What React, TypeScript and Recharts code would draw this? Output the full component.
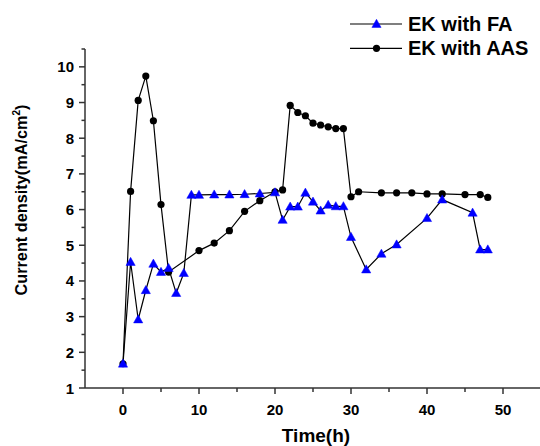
import React from 'react';
import { LineChart, Line, XAxis, YAxis, Label, Legend } from 'recharts';

const FONT = '"Liberation Sans", Arial, Helvetica, sans-serif';
const AXIS_COLOR = '#333333';
const FA_COLOR = '#0000ff';

// Current density over time, EK with FA (triangles)
const faHours = [0, 1, 2, 3, 4, 5, 6, 7, 8, 9, 10, 12, 14, 16, 18, 20, 21, 22, 23, 24, 25, 26, 27, 28, 29, 30, 32, 34, 36, 40, 42, 46, 47, 48];
const faDensity = [1.68, 4.53, 2.92, 3.74, 4.48, 4.25, 4.36, 3.66, 4.22, 6.41, 6.41, 6.42, 6.42, 6.43, 6.45, 6.48, 5.71, 6.08, 6.08, 6.47, 6.22, 5.97, 6.13, 6.09, 6.09, 5.23, 4.32, 4.76, 5.02, 5.76, 6.28, 5.91, 4.88, 4.88];

// Current density over time, EK with AAS (circles)
const aasHours = [0, 1, 2, 3, 4, 5, 6, 10, 12, 14, 16, 18, 20, 21, 22, 23, 24, 25, 26, 27, 28, 29, 30, 31, 34, 36, 38, 40, 42, 45, 47, 48];
const aasDensity = [1.68, 6.51, 9.06, 9.74, 8.49, 6.14, 4.25, 4.85, 5.06, 5.41, 5.95, 6.25, 6.5, 6.55, 8.92, 8.72, 8.63, 8.42, 8.37, 8.32, 8.27, 8.27, 6.36, 6.5, 6.47, 6.47, 6.47, 6.44, 6.44, 6.42, 6.42, 6.34];

const seriesNames = ['EK with FA', 'EK with AAS'];

const xTicks = [0, 5, 10, 15, 20, 25, 30, 35, 40, 45, 50];
const yTicks = [1, 1.5, 2, 2.5, 3, 3.5, 4, 4.5, 5, 5.5, 6, 6.5, 7, 7.5, 8, 8.5, 9, 9.5, 10, 10.5];

const faData = faHours.map((t, i) => ({ t, v: faDensity[i] }));
const aasData = aasHours.map((t, i) => ({ t, v: aasDensity[i] }));

const triPoints = (cx: number, cy: number) =>
  `${cx},${cy - 4.7} ${cx - 4.6},${cy + 3.4} ${cx + 4.6},${cy + 3.4}`;

const TriangleDot = (props: any) => {
  const { cx, cy, index } = props;
  if (cx == null || cy == null) return <g key={`fa-${index}`} />;
  return <polygon key={`fa-${index}`} points={triPoints(cx, cy)} fill={FA_COLOR} stroke={FA_COLOR} strokeWidth={0.5} />;
};

const CircleDot = (props: any) => {
  const { cx, cy, index } = props;
  if (cx == null || cy == null) return <g key={`aas-${index}`} />;
  return <circle key={`aas-${index}`} cx={cx} cy={cy} r={3.6} fill="#000" />;
};

const XTick = (props: any) => {
  const { x, y, payload } = props;
  const major = payload.value % 10 === 0;
  return (
    <g>
      <line x1={x} x2={x} y1={y} y2={y + (major ? 6 : 4)} stroke={AXIS_COLOR} strokeWidth={1.5} />
      {major && (
        <text x={x} y={y + 27} textAnchor="middle" fontFamily={FONT} fontWeight="bold" fontSize={15} fill="#000">
          {payload.value}
        </text>
      )}
    </g>
  );
};

const YTick = (props: any) => {
  const { x, y, payload } = props;
  const major = Number.isInteger(payload.value);
  return (
    <g>
      <line x1={x - (major ? 6 : 3.5)} x2={x} y1={y} y2={y} stroke={AXIS_COLOR} strokeWidth={1.5} />
      {major && (
        <text x={x - 11} y={y + 5.5} textAnchor="end" fontFamily={FONT} fontWeight="bold" fontSize={15} fill="#000">
          {payload.value}
        </text>
      )}
    </g>
  );
};

const YTitle = (props: any) => {
  const vb = props.viewBox || {};
  const cy = (vb.y ?? 49) + 151;
  const cx = 27;
  return (
    <text
      x={cx}
      y={cy}
      transform={`rotate(-90 ${cx} ${cy})`}
      textAnchor="middle"
      fontFamily={FONT}
      fontWeight="bold"
      fontSize={16.3}
      fill="#000"
    >
      Current density(mA/cm
      <tspan fontSize={10} dy={-7}>2</tspan>
      <tspan dy={7}>)</tspan>
    </text>
  );
};

const XTitle = (props: any) => {
  const vb = props.viewBox || {};
  const cx = (vb.x ?? 85) + 231;
  return (
    <text x={cx} y={441.5} textAnchor="middle" fontFamily={FONT} fontWeight="bold" fontSize={19} fill="#000">
      Time(h)
    </text>
  );
};

const LegendContent = () => (
  <svg width={200} height={62} style={{ display: 'block' }}>
    {seriesNames.map((name, i) => {
      const y = 24 + i * 24.3;
      return (
        <g key={name}>
          <line x1={10} x2={62} y1={y} y2={y} stroke="#000" strokeWidth={1.2} />
          {i === 0 ? (
            <polygon points={triPoints(36.5, y)} fill={FA_COLOR} stroke={FA_COLOR} strokeWidth={0.5} />
          ) : (
            <circle cx={36.5} cy={y} r={3.6} fill="#000" />
          )}
          <text x={68} y={y + 7} fontFamily={FONT} fontWeight="bold" fontSize={20} fill="#000">
            {name}
          </text>
        </g>
      );
    })}
  </svg>
);

export default function App() {
  return (
    <div style={{ position: 'absolute', left: 0, top: 0, width: 540, height: 446, overflow: 'hidden', background: '#fff' }}>
      <LineChart width={541} height={446} margin={{ top: 49, right: 0, bottom: 0, left: 0 }}>
        <XAxis
          dataKey="t"
          type="number"
          domain={[-5, 55]}
          ticks={xTicks}
          interval={0}
          allowDataOverflow
          height={58}
          tickSize={0}
          tickMargin={0}
          tickLine={false}
          tick={<XTick />}
          axisLine={{ stroke: AXIS_COLOR, strokeWidth: 1.5 }}
        >
          <Label content={<XTitle />} />
        </XAxis>
        <YAxis
          dataKey="v"
          type="number"
          domain={[1, 10.5]}
          ticks={yTicks}
          interval={0}
          allowDataOverflow
          width={85}
          tickSize={0}
          tickMargin={0}
          tickLine={false}
          tick={<YTick />}
          axisLine={{ stroke: AXIS_COLOR, strokeWidth: 1.5 }}
        >
          <Label content={<YTitle />} />
        </YAxis>
        <Legend
          layout="vertical"
          align="center"
          verticalAlign="middle"
          content={<LegendContent />}
          wrapperStyle={{ position: 'absolute', left: 340, top: 0, width: 200, height: 62 }}
        />
        <Line
          data={aasData}
          dataKey="v"
          name={seriesNames[1]}
          stroke="#000"
          strokeWidth={1.2}
          dot={CircleDot}
          activeDot={false}
          isAnimationActive={false}
        />
        <Line
          data={faData}
          dataKey="v"
          name={seriesNames[0]}
          stroke="#000"
          strokeWidth={1.2}
          dot={TriangleDot}
          activeDot={false}
          isAnimationActive={false}
        />
      </LineChart>
    </div>
  );
}
